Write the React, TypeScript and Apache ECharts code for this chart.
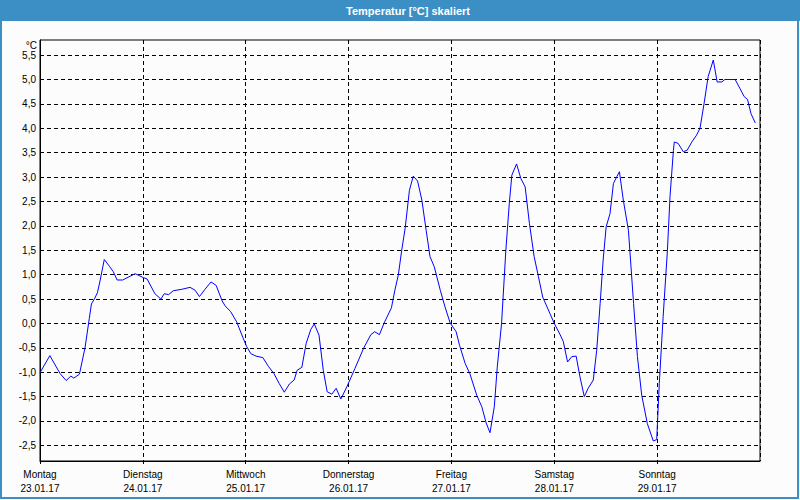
import React, { useEffect, useRef } from 'react';
import * as echarts from 'echarts';

const chartTitle = 'Temperatur [°C] skaliert';
const unitLabel = '°C';

const dayNames = ['Montag', 'Dienstag', 'Mittwoch', 'Donnerstag', 'Freitag', 'Samstag', 'Sonntag'];
const dayDates = ['23.01.17', '24.01.17', '25.01.17', '26.01.17', '27.01.17', '28.01.17', '29.01.17'];
const xTicks = [0, 24, 48, 72, 96, 120, 144];
const yTicks = [-2.5, -2, -1.5, -1, -0.5, 0, 0.5, 1, 1.5, 2, 2.5, 3, 3.5, 4, 4.5, 5, 5.5];
const yMin = -2.82;
const yMax = 5.81;
const xMin = 0;
const xMax = 168;

// hours since Monday 23.01.17 00:00
const hours = [
  0, 2.3, 4.7, 6.1, 7.2, 7.9, 9.2, 10.5, 11.5, 12.0, 12.8, 13.4, 14.0, 15.0, 16.3, 17.1, 18.0, 19.3, 22.2,
  24.1, 25.0, 26.8, 28.2, 29.0, 30.0, 31.1, 33.1, 35.0, 36.2, 37.2, 38.5, 39.9, 41.1, 42.5, 43.2, 44.5, 45.9, 47.3,
  48.2, 49.2, 50.4, 52.0, 53.3, 54.6, 55.8, 57.0, 58.2, 59.3, 60.0, 61.1, 62.1, 63.2, 64.0, 65.1, 66.1, 67.0, 68.1,
  69.1, 70.2, 71.6, 73.5, 75.5, 77.2, 78.1, 79.2, 80.3, 82.0, 82.8, 83.6, 84.4, 85.2, 86.2, 87.1, 88.1, 89.1, 90.1,
  91.0, 92.0, 93.4, 94.5, 95.7, 97.1, 97.9, 99.2, 100.3, 101.9, 103.1, 104.1, 105.0, 106.0, 106.7, 107.7, 108.7,
  109.5, 110.1, 111.2, 112.2, 113.2, 114.2, 115.3, 116.3, 117.3, 119.0, 120.0, 121.3, 122.1, 123.1, 124.1, 125.1,
  126.0, 127.0, 127.9, 129.1, 129.9, 130.7, 131.4, 132.1, 133.0, 133.8, 134.6, 135.2, 136.1, 137.3, 137.9, 138.5,
  139.4, 140.4, 141.7, 143.1, 143.9, 144.5, 145.4, 146.4, 147.0, 147.8, 148.0, 148.9, 150.1, 151.0, 152.1, 153.2,
  154.0, 154.9, 155.9, 157.1, 158.0, 159.1, 159.8, 162.2, 163.3, 164.3, 165.1, 165.9, 166.9,
];

const temps = [
  -1.01, -0.66, -1.03, -1.17, -1.08, -1.12, -1.04, -0.5, 0.1, 0.4, 0.52, 0.63, 0.87, 1.31, 1.16, 1.06, 0.89, 0.89, 1.02,
  0.94, 0.91, 0.61, 0.5, 0.61, 0.59, 0.67, 0.7, 0.74, 0.68, 0.55, 0.7, 0.85, 0.78, 0.46, 0.36, 0.24, 0.03, -0.28,
  -0.47, -0.62, -0.67, -0.7, -0.88, -1.03, -1.23, -1.41, -1.24, -1.16, -0.96, -0.9, -0.41, -0.12, -0.01, -0.24, -0.96, -1.4, -1.45,
  -1.33, -1.55, -1.3, -0.92, -0.51, -0.23, -0.17, -0.23, 0.01, 0.32, 0.68, 0.99, 1.5, 1.95, 2.73, 3.02, 2.92, 2.53, 1.91,
  1.37, 1.16, 0.68, 0.34, 0.01, -0.17, -0.45, -0.82, -1.03, -1.47, -1.71, -2.04, -2.24, -1.71, -0.89, 0.0, 1.5,
  2.46, 3.04, 3.27, 2.97, 2.8, 2.05, 1.37, 0.96, 0.54, 0.2, 0.0, -0.22, -0.37, -0.79, -0.68, -0.67,
  -1.1, -1.5, -1.33, -1.16, -0.55, 0.41, 1.3, 1.98, 2.25, 2.87, 3.01, 3.11, 2.53, 1.91, 1.16, 0.41,
  -0.68, -1.47, -2.05, -2.41, -2.38, -1.23, 0.14, 1.5, 2.6, 3.55, 3.72, 3.69, 3.52, 3.55, 3.72, 3.86,
  4.0, 4.48, 5.06, 5.4, 4.95, 4.95, 5.0, 5.0, 4.82, 4.65, 4.59, 4.3, 4.11,
];

export default function App() {
  const ref = useRef<HTMLDivElement>(null);

  useEffect(() => {
    if (!ref.current) return;
    const chart = echarts.init(ref.current, undefined, { renderer: 'svg' });
    const font = '"Liberation Sans", Arial, sans-serif';
    const blue = '#3c8fc4';
    const data = hours.map((h, i) => [h, temps[i]]);

    chart.setOption({
      animation: false,
      backgroundColor: '#fbfcfb',
      textStyle: { fontFamily: font },
      grid: {
        left: 40,
        right: 40,
        top: 40,
        bottom: 39,
        show: true,
        borderColor: '#000',
        borderWidth: 1,
        backgroundColor: 'transparent',
        containLabel: false,
        outerBoundsMode: 'none',
      },
      xAxis: {
        type: 'value',
        min: xMin,
        max: xMax,
        interval: 24,
        axisLine: { show: true, onZero: false, lineStyle: { color: '#000', width: 1 } },
        axisTick: { show: true, length: 3, lineStyle: { color: '#000' } },
        axisLabel: {
          color: '#000',
          fontSize: 10,
          fontFamily: font,
          margin: 6,
          lineHeight: 14,
          showMaxLabel: false,
          formatter: (v: number) => {
            const i = xTicks.indexOf(v);
            return i >= 0 ? dayNames[i] + '\n' + dayDates[i] : '';
          },
        },
        splitLine: { show: true, lineStyle: { color: '#000', type: [4, 3], width: 1 } },
      },
      yAxis: {
        type: 'value',
        min: yMin,
        max: yMax,
        axisLine: { show: true, onZero: false, lineStyle: { color: '#000', width: 1 } },
        axisTick: { show: false, customValues: yTicks },
        axisLabel: {
          color: '#000',
          fontSize: 10,
          fontFamily: font,
          margin: 4,
          customValues: yTicks,
          formatter: (v: number) => v.toFixed(1).replace('.', ','),
        },
        splitLine: { show: true, lineStyle: { color: '#000', type: [4, 3], width: 1 } },
      },
      graphic: [
        { type: 'rect', shape: { x: 0, y: 0, width: 800, height: 21 }, style: { fill: blue }, silent: true },
        {
          type: 'rect',
          shape: { x: 1, y: 1, width: 797, height: 497 },
          style: { fill: 'none', stroke: blue, lineWidth: 2 },
          silent: true,
        },
        {
          type: 'text',
          x: 408,
          y: 10.5,
          style: {
            text: chartTitle,
            fill: '#fff',
            font: 'bold 11px ' + font,
            textAlign: 'center',
            textVerticalAlign: 'middle',
          },
          silent: true,
        },
        {
          type: 'text',
          x: 37,
          y: 45,
          style: {
            text: unitLabel,
            fill: '#000',
            font: '10px ' + font,
            textAlign: 'right',
            textVerticalAlign: 'middle',
          },
          silent: true,
        },
      ],
      series: [
        {
          type: 'line',
          data,
          showSymbol: false,
          symbol: 'none',
          lineStyle: { color: '#0000ff', width: 1 },
          itemStyle: { color: '#0000ff' },
          smooth: false,
          z: 5,
        },
      ],
    });

    return () => chart.dispose();
  }, []);

  return (
    <div
      ref={ref}
      style={{ position: 'fixed', left: 0, top: 0, width: 800, height: 500 }}
    />
  );
}
